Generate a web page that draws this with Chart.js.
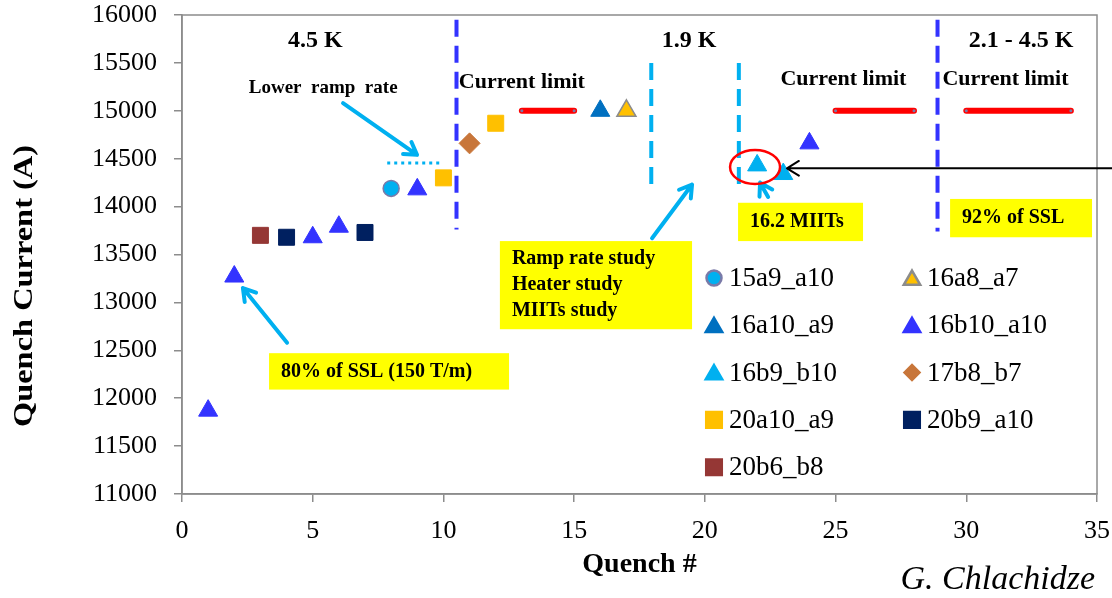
<!DOCTYPE html>
<html>
<head>
<meta charset="utf-8">
<title>Quench history</title>
<script src="https://cdn.jsdelivr.net/npm/chart.js@4.4.1/dist/chart.umd.min.js"></script>
<style>
  html, body { margin: 0; padding: 0; background: #fff; }
  #wrap { width: 1112px; height: 598px; }
</style>
</head>
<body>
<div id="wrap"><canvas id="myChart" width="1112" height="598"></canvas></div>
<script>
'use strict';

/** Data */
let xTicks = [0, 5, 10, 15, 20, 25, 30, 35];
let yTicks = [11000, 11500, 12000, 12500, 13000, 13500, 14000, 14500, 15000, 15500, 16000];

let seriesNames = ['15a9_a10', '16a8_a7', '16a10_a9', '16b10_a10', '16b9_b10', '17b8_b7', '20a10_a9', '20b9_a10', '20b6_b8'];

let quench15a9 = [8];
let current15a9 = [14190];
let quench16a8 = [17];
let current16a8 = [15000];
let quench16a10 = [16];
let current16a10 = [15000];
let quench16b10 = [1, 2, 5, 6, 9, 24];
let current16b10 = [11870, 13270, 13680, 13790, 14180, 14660];
let quench16b9 = [22, 23];
let current16b9 = [14430, 14340];
let quench17b8 = [11];
let current17b8 = [14660];
let quench20a10 = [10, 12];
let current20a10 = [14300, 14870];
let quench20b9 = [4, 7];
let current20b9 = [13680, 13730];
let quench20b6 = [3];
let current20b6 = [13700];

// current limit segments (quench # from/to) at one current
let limitFrom = [13, 25, 30];
let limitTo = [15, 28, 34];
let limitCurrent = 15000;

// temperature / study dividers
let dividerQuench = [10.5, 17.95, 21.3, 28.9];
let dividerLow = [13760, 14220, 14220, 13740];
let dividerHigh = [15950, 15500, 15500, 15950];

// lower ramp rate marker
let rampQuench = [7.85, 9.95];
let rampCurrent = 14455;

/** Styles */
let serif = '"Liberation Serif", "Times New Roman", serif';
let axisGray = '#8c8c8c';

let seriesStyle = {
  '15a9_a10':  { style: 'circle',   fill: '#00b0f0', line: '#7a7aa8', bw: 1.5, r: 8,  lr: 7.5 },
  '16a8_a7':   { style: 'triangle', fill: '#ffc000', line: '#8c8c8c', bw: 1.5, r: 11, lr: 9.5 },
  '16a10_a9':  { style: 'triangle', fill: '#0070c0', line: '#0070c0', bw: 1,   r: 11, lr: 9.5 },
  '16b10_a10': { style: 'triangle', fill: '#3333ff', line: '#3333ff', bw: 1,   r: 11, lr: 9.5 },
  '16b9_b10':  { style: 'triangle', fill: '#00b0f0', line: '#00b0f0', bw: 1,   r: 11, lr: 9.5 },
  '17b8_b7':   { style: 'rectRot',  fill: '#c8763a', line: '#c8763a', bw: 1,   r: 10.5, lr: 7.5 },
  '20a10_a9':  { style: 'rect',     fill: '#ffc000', line: '#ffc000', bw: 1,   r: 11.3, lr: 11 },
  '20b9_a10':  { style: 'rect',     fill: '#002060', line: '#002060', bw: 1,   r: 11.3, lr: 11 },
  '20b6_b8':   { style: 'rect',     fill: '#953735', line: '#953735', bw: 1,   r: 11.3, lr: 11 }
};

let seriesData = {
  '15a9_a10': [quench15a9, current15a9],
  '16a8_a7': [quench16a8, current16a8],
  '16a10_a9': [quench16a10, current16a10],
  '16b10_a10': [quench16b10, current16b10],
  '16b9_b10': [quench16b9, current16b9],
  '17b8_b7': [quench17b8, current17b8],
  '20a10_a9': [quench20a10, current20a10],
  '20b9_a10': [quench20b9, current20b9],
  '20b6_b8': [quench20b6, current20b6]
};

/** Annotations (data coordinates) */
let regionLabels = [
  { text: '4.5 K', x: 5.1, y: 15730 },
  { text: '1.9 K', x: 19.4, y: 15730 },
  { text: '2.1 - 4.5 K', x: 32.1, y: 15730 }
];
let limitLabels = [
  { text: 'Current limit', x: 13.0, y: 15300 },
  { text: 'Current limit', x: 25.3, y: 15330 },
  { text: 'Current limit', x: 31.5, y: 15330 }
];
let noteBoxes = [
  { lines: ['Ramp rate study', 'Heater study', 'MIITs study'], x1: 12.16, y1: 13640, x2: 19.51, y2: 12720 },
  { lines: ['80% of SSL (150 T/m)'], x1: 3.33, y1: 12470, x2: 12.51, y2: 12090 },
  { lines: ['16.2 MIITs'], x1: 21.27, y1: 14040, x2: 26.05, y2: 13640 },
  { lines: ['92% of SSL'], x1: 29.38, y1: 14080, x2: 34.81, y2: 13680 }
];
let arrows = [
  { from: [6.16, 15080], to: [8.99, 14540], color: '#00b0f0', width: 4 },
  { from: [4.02, 12580], to: [2.33, 13150], color: '#00b0f0', width: 4 },
  { from: [17.98, 13670], to: [19.51, 14230], color: '#00b0f0', width: 4 },
  { from: [22.42, 14100], to: [22.11, 14250], color: '#00b0f0', width: 4 },
  { from: [35.8, 14400], to: [23.14, 14400], color: '#000000', width: 2 }
];
let highlight = { x: 21.92, y: 14413, rx: 25, ry: 17 };

/** Build datasets */
let datasets = [];

for (let i = 0; i < seriesNames.length; i++) {
  let name = seriesNames[i];
  let s = seriesStyle[name];
  let pts = [];
  for (let j = 0; j < seriesData[name][0].length; j++) {
    pts.push({ x: seriesData[name][0][j], y: seriesData[name][1][j] });
  }
  datasets.push({
    label: name,
    data: pts,
    pointStyle: s.style,
    pointRadius: s.r,
    pointBackgroundColor: s.fill,
    pointBorderColor: s.line,
    pointBorderWidth: s.bw,
    order: 0
  });
}

for (let i = 0; i < limitFrom.length; i++) {
  datasets.push({
    label: 'limit',
    data: [{ x: limitFrom[i], y: limitCurrent }, { x: limitTo[i], y: limitCurrent }],
    showLine: true,
    borderColor: '#ff0000',
    borderWidth: 6,
    borderCapStyle: 'round',
    pointRadius: 1.5,
    pointBackgroundColor: '#7a7aa8',
    pointBorderWidth: 0,
    order: 1
  });
}

for (let i = 0; i < dividerQuench.length; i++) {
  let dark = (i === 0 || i === 3);
  datasets.push({
    label: 'divider',
    data: [{ x: dividerQuench[i], y: dividerHigh[i] }, { x: dividerQuench[i], y: dividerLow[i] }],
    showLine: true,
    borderColor: dark ? '#3333ff' : '#00b0f0',
    borderWidth: 4,
    borderDash: [17, 9],
    pointRadius: 0,
    order: 2
  });
}

datasets.push({
  label: 'ramp',
  data: [{ x: rampQuench[0], y: rampCurrent }, { x: rampQuench[1], y: rampCurrent }],
  showLine: true,
  borderColor: '#00b0f0',
  borderWidth: 3,
  borderDash: [3, 4],
  pointRadius: 0,
  order: 2
});

/** Helpers */
function drawArrow(c, x1, y1, x2, y2, color, width) {
  let ang = Math.atan2(y2 - y1, x2 - x1);
  let head = 14;
  c.save();
  c.strokeStyle = color;
  c.lineWidth = width;
  c.lineCap = 'round';
  c.lineJoin = 'round';
  c.beginPath();
  c.moveTo(x1, y1);
  c.lineTo(x2, y2);
  c.moveTo(x2 - head * Math.cos(ang - 0.55), y2 - head * Math.sin(ang - 0.55));
  c.lineTo(x2, y2);
  c.lineTo(x2 - head * Math.cos(ang + 0.55), y2 - head * Math.sin(ang + 0.55));
  c.stroke();
  c.restore();
}

// Plot frame, notes, legend, axis titles
let notesPlugin = {
  id: 'notes',
  beforeDatasetsDraw(chart) {
    let c = chart.ctx;
    let a = chart.chartArea;
    c.save();
    c.strokeStyle = axisGray;
    c.lineWidth = 1.5;
    c.strokeRect(a.left, a.top, a.right - a.left, a.bottom - a.top);
    c.restore();
  },
  afterDraw(chart) {
    let c = chart.ctx;
    let sx = chart.scales.x;
    let sy = chart.scales.y;
    let px = v => sx.getPixelForValue(v);
    let py = v => sy.getPixelForValue(v);

    c.save();
    c.fillStyle = '#000';
    c.textAlign = 'center';
    c.textBaseline = 'middle';

    c.font = 'bold 24px ' + serif;
    regionLabels.forEach(l => c.fillText(l.text, px(l.x), py(l.y)));

    c.font = 'bold 22px ' + serif;
    limitLabels.forEach(l => c.fillText(l.text, px(l.x), py(l.y)));

    c.font = 'bold 19px ' + serif;
    c.fillText('Lower  ramp  rate', px(5.4), py(15240));

    // yellow note boxes
    c.textAlign = 'left';
    c.font = 'bold 20px ' + serif;
    noteBoxes.forEach(b => {
      let x1 = px(b.x1), y1 = py(b.y1), x2 = px(b.x2), y2 = py(b.y2);
      c.fillStyle = '#ffff00';
      c.fillRect(x1, y1, x2 - x1, y2 - y1);
      c.fillStyle = '#000';
      let lh = 26;
      let mid = (y1 + y2) / 2;
      b.lines.forEach((t, k) => {
        c.fillText(t, x1 + 12, mid + (k - (b.lines.length - 1) / 2) * lh);
      });
    });

    arrows.forEach(ar => {
      drawArrow(c, px(ar.from[0]), py(ar.from[1]), px(ar.to[0]), py(ar.to[1]), ar.color, ar.width);
    });

    // highlighted point
    c.strokeStyle = '#ff0000';
    c.lineWidth = 2.5;
    c.beginPath();
    c.ellipse(px(highlight.x), py(highlight.y), highlight.rx, highlight.ry, 0, 0, Math.PI * 2);
    c.stroke();

    // legend
    let colX = [714, 912];
    let rowY = 278;
    let rowH = 47.3;
    c.font = '27px ' + serif;
    c.textAlign = 'left';
    seriesNames.forEach((name, i) => {
      let s = seriesStyle[name];
      let mx = colX[i % 2];
      let my = rowY + Math.floor(i / 2) * rowH;
      c.fillStyle = s.fill;
      c.strokeStyle = s.line;
      Chart.helpers.drawPoint(c, { pointStyle: s.style, radius: s.lr, borderWidth: s.bw, rotation: 0 }, mx, my + (s.style === 'triangle' ? 2 : 0));
      c.fillStyle = '#000';
      c.fillText(name, mx + 15, my + 1);
    });

    // axis titles
    c.fillStyle = '#000';
    c.textAlign = 'center';
    c.font = 'bold 28px ' + serif;
    c.fillText('Quench #', (chart.chartArea.left + chart.chartArea.right) / 2, 565);

    c.save();
    c.translate(25, 286);
    c.rotate(-Math.PI / 2);
    let yTitle = 'Quench Current (A)';
    let w = c.measureText(yTitle).width;
    c.scale(282 / w, 1);
    c.fillText(yTitle, 0, 0);
    c.restore();

    c.font = 'italic 34px ' + serif;
    c.textAlign = 'right';
    c.fillText('G. Chlachidze', 1095, 580);

    c.restore();
  }
};

/** Chart */
let ctx = document.getElementById('myChart');

new Chart(ctx, {
  type: 'scatter',
  data: { datasets: datasets },
  options: {
    responsive: false,
    animation: false,
    devicePixelRatio: 1,
    layout: { padding: { left: 0, right: 15, top: 15, bottom: 0 } },
    plugins: {
      legend: { display: false },
      tooltip: { enabled: false }
    },
    scales: {
      x: {
        type: 'linear',
        min: xTicks[0],
        max: xTicks[xTicks.length - 1],
        afterBuildTicks: axis => { axis.ticks = xTicks.map(v => ({ value: v })); },
        afterFit: axis => {
          axis.height = 104;
          axis.paddingLeft = 0;
          axis.paddingRight = 0;
        },
        grid: { drawOnChartArea: false, drawTicks: true, tickLength: 8, color: axisGray, lineWidth: 1.5 },
        border: { display: true, color: axisGray, width: 1.5 },
        ticks: { color: '#000', padding: 14, font: { family: serif, size: 26 }, maxRotation: 0 }
      },
      y: {
        type: 'linear',
        min: yTicks[0],
        max: yTicks[yTicks.length - 1],
        afterBuildTicks: axis => { axis.ticks = yTicks.map(v => ({ value: v })); },
        afterFit: axis => {
          axis.width = 182;
          axis.paddingTop = 0;
          axis.paddingBottom = 0;
        },
        grid: { drawOnChartArea: false, drawTicks: true, tickLength: 8, color: axisGray, lineWidth: 1.5 },
        border: { display: true, color: axisGray, width: 1.5 },
        ticks: { color: '#000', padding: 17, font: { family: serif, size: 26 }, callback: v => String(v) }
      }
    }
  },
  plugins: [notesPlugin]
});
</script>
</body>
</html>
